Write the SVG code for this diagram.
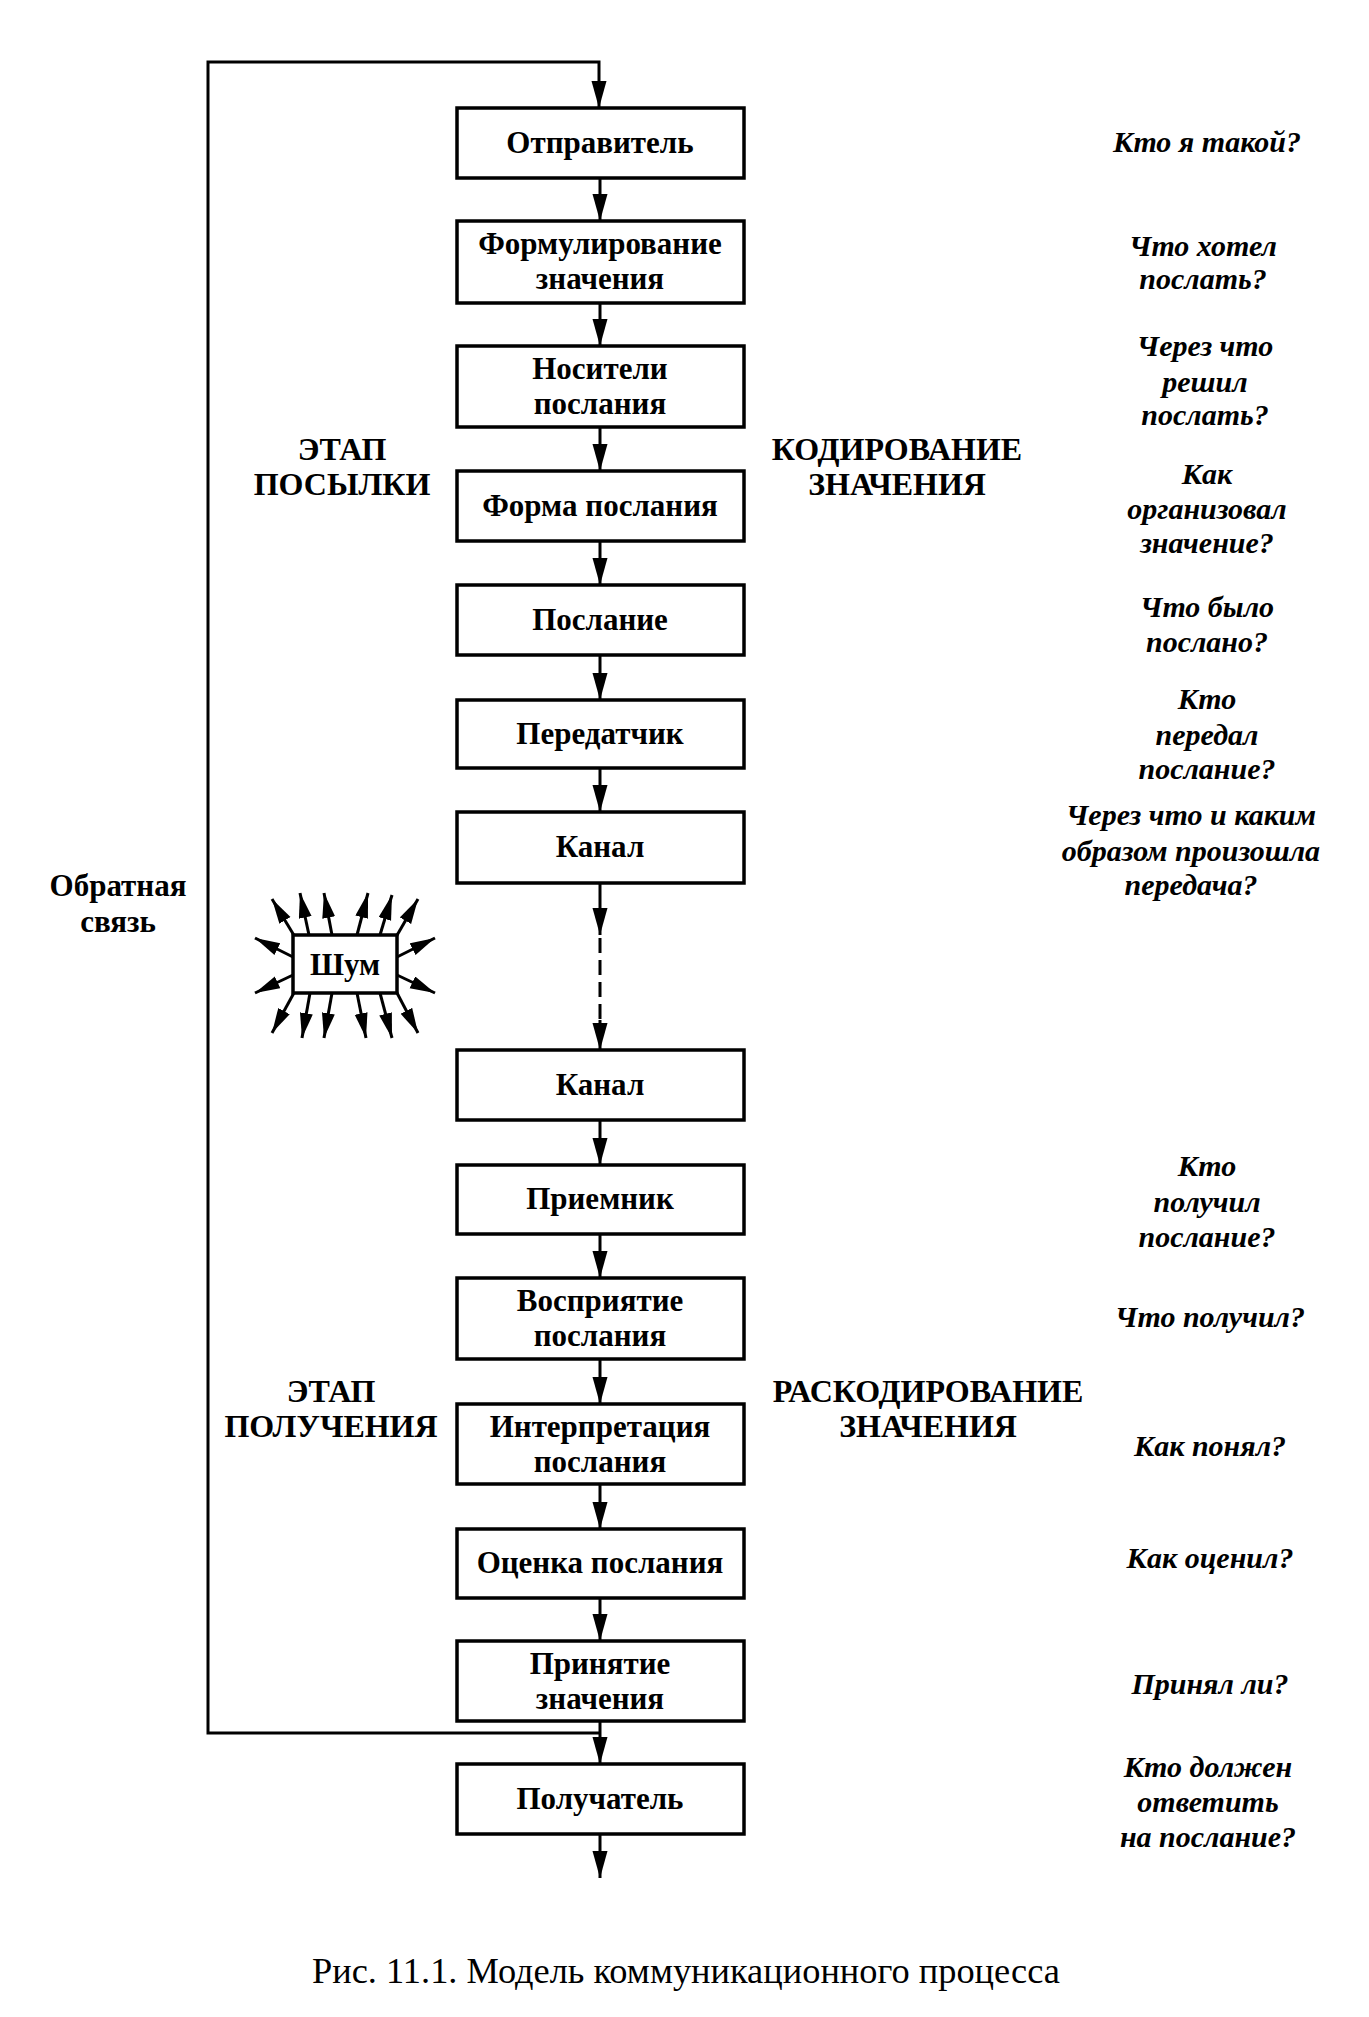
<svg xmlns="http://www.w3.org/2000/svg" width="1369" height="2017" viewBox="0 0 1369 2017">
<style>
.box{fill:#fff;stroke:#000;stroke-width:3.5}
.bt{font-family:"Liberation Serif","Times New Roman",serif;font-weight:bold;font-size:31px;text-anchor:middle;fill:#000}
.lb{font-family:"Liberation Serif","Times New Roman",serif;font-weight:bold;font-size:32px;text-anchor:middle;fill:#000}
.q{font-family:"Liberation Serif","Times New Roman",serif;font-weight:bold;font-style:italic;font-size:30px;text-anchor:middle;fill:#000}
.cap{font-family:"Liberation Serif","Times New Roman",serif;font-size:35px;text-anchor:middle;fill:#000}
.ln{fill:none;stroke:#000;stroke-width:3}
.ar{marker-end:url(#ah)}
.na{fill:none;stroke:#000;stroke-width:3;marker-end:url(#nh)}
</style>
<defs>
<marker id="ah" markerUnits="userSpaceOnUse" markerWidth="28" markerHeight="16" refX="27" refY="7.5" orient="auto">
<path d="M0,0 L27,7.5 L0,15 z" fill="#000"/>
</marker>
<marker id="nh" markerUnits="userSpaceOnUse" markerWidth="26" markerHeight="14" refX="25" refY="6.5" orient="auto">
<path d="M0,0 L25,6.5 L0,13 z" fill="#000"/>
</marker>
</defs>
<rect width="1369" height="2017" fill="#fff"/>

<g id="connectors">
<path class="ln ar" d="M600,1733 H208 V62 H599 V108"/>
<line class="ln ar" x1="600" y1="178" x2="600" y2="221"/>
<line class="ln ar" x1="600" y1="303" x2="600" y2="346"/>
<line class="ln ar" x1="600" y1="427" x2="600" y2="471"/>
<line class="ln ar" x1="600" y1="541" x2="600" y2="585"/>
<line class="ln ar" x1="600" y1="655" x2="600" y2="700"/>
<line class="ln ar" x1="600" y1="768" x2="600" y2="812"/>
<line class="ln ar" x1="600" y1="883" x2="600" y2="935"/>
<line class="ln" x1="600" y1="938" x2="600" y2="1022" stroke-dasharray="15 7"/>
<line class="ln ar" x1="600" y1="1020" x2="600" y2="1050"/>
<line class="ln ar" x1="600" y1="1120" x2="600" y2="1165"/>
<line class="ln ar" x1="600" y1="1234" x2="600" y2="1278"/>
<line class="ln ar" x1="600" y1="1359" x2="600" y2="1404"/>
<line class="ln ar" x1="600" y1="1484" x2="600" y2="1529"/>
<line class="ln ar" x1="600" y1="1598" x2="600" y2="1641"/>
<line class="ln ar" x1="600" y1="1721" x2="600" y2="1764"/>
<line class="ln ar" x1="600" y1="1834" x2="600" y2="1878"/>
</g>

<g id="n1"><rect class="box" x="457" y="108" width="287" height="70"/><text class="bt" x="600" y="153">Отправитель</text></g>
<g id="n2"><rect class="box" x="457" y="221" width="287" height="82"/><text class="bt" x="600" y="254">Формулирование</text><text class="bt" x="600" y="289">значения</text></g>
<g id="n3"><rect class="box" x="457" y="346" width="287" height="81"/><text class="bt" x="600" y="379">Носители</text><text class="bt" x="600" y="414">послания</text></g>
<g id="n4"><rect class="box" x="457" y="471" width="287" height="70"/><text class="bt" x="600" y="516">Форма послания</text></g>
<g id="n5"><rect class="box" x="457" y="585" width="287" height="70"/><text class="bt" x="600" y="630">Послание</text></g>
<g id="n6"><rect class="box" x="457" y="700" width="287" height="68"/><text class="bt" x="600" y="744">Передатчик</text></g>
<g id="n7"><rect class="box" x="457" y="812" width="287" height="71"/><text class="bt" x="600" y="857">Канал</text></g>
<g id="n8"><rect class="box" x="457" y="1050" width="287" height="70"/><text class="bt" x="600" y="1095">Канал</text></g>
<g id="n9"><rect class="box" x="457" y="1165" width="287" height="69"/><text class="bt" x="600" y="1209">Приемник</text></g>
<g id="n10"><rect class="box" x="457" y="1278" width="287" height="81"/><text class="bt" x="600" y="1311">Восприятие</text><text class="bt" x="600" y="1346">послания</text></g>
<g id="n11"><rect class="box" x="457" y="1404" width="287" height="80"/><text class="bt" x="600" y="1437">Интерпретация</text><text class="bt" x="600" y="1472">послания</text></g>
<g id="n12"><rect class="box" x="457" y="1529" width="287" height="69"/><text class="bt" x="600" y="1573">Оценка послания</text></g>
<g id="n13"><rect class="box" x="457" y="1641" width="287" height="80"/><text class="bt" x="600" y="1674">Принятие</text><text class="bt" x="600" y="1709">значения</text></g>
<g id="n14"><rect class="box" x="457" y="1764" width="287" height="70"/><text class="bt" x="600" y="1809">Получатель</text></g>

<g id="noise">
<line class="na" x1="295" y1="937" x2="272" y2="899"/>
<line class="na" x1="309" y1="935" x2="300" y2="893"/>
<line class="na" x1="332" y1="935" x2="324" y2="893"/>
<line class="na" x1="357" y1="935" x2="368" y2="893"/>
<line class="na" x1="380" y1="935" x2="392" y2="895"/>
<line class="na" x1="396" y1="937" x2="418" y2="899"/>
<line class="na" x1="293" y1="957" x2="255" y2="938"/>
<line class="na" x1="293" y1="975" x2="255" y2="993"/>
<line class="na" x1="397" y1="957" x2="435" y2="938"/>
<line class="na" x1="397" y1="975" x2="435" y2="993"/>
<line class="na" x1="295" y1="991" x2="272" y2="1033"/>
<line class="na" x1="310" y1="993" x2="302" y2="1038"/>
<line class="na" x1="332" y1="993" x2="324" y2="1038"/>
<line class="na" x1="357" y1="993" x2="366" y2="1038"/>
<line class="na" x1="380" y1="993" x2="392" y2="1038"/>
<line class="na" x1="396" y1="991" x2="418" y2="1033"/>
<rect class="box" x="293" y="935" width="104" height="58"/>
<text class="bt" x="345" y="975">Шум</text>
</g>

<g id="labels">
<text class="lb" x="342" y="460">ЭТАП</text>
<text class="lb" x="342" y="495">ПОСЫЛКИ</text>
<text class="lb" x="897" y="460">КОДИРОВАНИЕ</text>
<text class="lb" x="897" y="495">ЗНАЧЕНИЯ</text>
<text class="bt" x="118" y="896">Обратная</text>
<text class="bt" x="118" y="932">связь</text>
<text class="lb" x="331" y="1402">ЭТАП</text>
<text class="lb" x="331" y="1437">ПОЛУЧЕНИЯ</text>
<text class="lb" x="928" y="1402">РАСКОДИРОВАНИЕ</text>
<text class="lb" x="928" y="1437">ЗНАЧЕНИЯ</text>
</g>

<g id="questions">
<text class="q" x="1207" y="152">Кто я такой?</text>
<text class="q" x="1203" y="256">Что хотел</text>
<text class="q" x="1203" y="289">послать?</text>
<text class="q" x="1205" y="356">Через что</text>
<text class="q" x="1205" y="392">решил</text>
<text class="q" x="1205" y="425">послать?</text>
<text class="q" x="1207" y="484">Как</text>
<text class="q" x="1207" y="519">организовал</text>
<text class="q" x="1207" y="553">значение?</text>
<text class="q" x="1207" y="617">Что было</text>
<text class="q" x="1207" y="652">послано?</text>
<text class="q" x="1207" y="709">Кто</text>
<text class="q" x="1207" y="745">передал</text>
<text class="q" x="1207" y="779">послание?</text>
<text class="q" x="1191" y="825">Через что и каким</text>
<text class="q" x="1191" y="861">образом произошла</text>
<text class="q" x="1191" y="895">передача?</text>
<text class="q" x="1207" y="1176">Кто</text>
<text class="q" x="1207" y="1212">получил</text>
<text class="q" x="1207" y="1247">послание?</text>
<text class="q" x="1210" y="1327">Что получил?</text>
<text class="q" x="1210" y="1456">Как понял?</text>
<text class="q" x="1210" y="1568">Как оценил?</text>
<text class="q" x="1210" y="1694">Принял ли?</text>
<text class="q" x="1208" y="1777">Кто должен</text>
<text class="q" x="1208" y="1812">ответить</text>
<text class="q" x="1208" y="1847">на послание?</text>
</g>

<text id="caption" class="cap" x="686" y="1983" textLength="748" lengthAdjust="spacingAndGlyphs">Рис. 11.1. Модель коммуникационного процесса</text>
</svg>
